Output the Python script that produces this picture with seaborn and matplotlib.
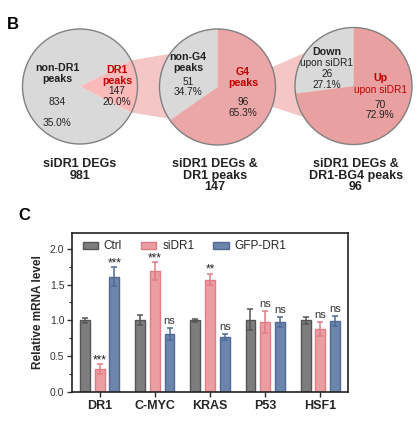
import numpy as np
import pandas as pd
import seaborn as sns
import matplotlib.pyplot as plt
from matplotlib.patches import Circle, Polygon
from matplotlib.ticker import MultipleLocator

sns.set_theme(style="ticks")
plt.rcParams['font.family'] = ['Liberation Sans', 'DejaVu Sans']

# panel B data
pie1_values = [834, 147]
pie2_values = [51, 96]
pie3_values = [26, 70]

# panel C data
genes = ["DR1", "C-MYC", "KRAS", "P53", "HSF1"]
groups = ["Ctrl", "siDR1", "GFP-DR1"]
ctrl_mean = [1.00, 1.00, 1.00, 1.01, 1.00]
ctrl_err = [0.03, 0.07, 0.02, 0.15, 0.05]
sidr1_mean = [0.32, 1.69, 1.57, 0.98, 0.88]
sidr1_err = [0.07, 0.12, 0.08, 0.15, 0.10]
gfp_mean = [1.61, 0.81, 0.77, 0.98, 0.99]
gfp_err = [0.13, 0.08, 0.04, 0.07, 0.07]
sidr1_sig = ["***", "***", "**", "ns", "ns"]
gfp_sig = ["***", "ns", "ns", "ns", "ns"]

face_colors = ["#7d7d7d", "#eb9ea2", "#6c85ab"]
edge_colors = ["#555555", "#e07c84", "#4f6a95"]

GRAY = "#d9d9d9"
RED_TXT = "#c00000"
H = 425

fig = plt.figure(figsize=(4.19, 4.25), dpi=100)

##########  panel B
axb = fig.add_axes([0, 0, 1, 1])

c1, r1 = (80, H - 86.5), 57.5
c2, r2 = (217.5, H - 87), 58
c3, r3 = (353.5, H - 86), 58.5

def pt(c, r, ang):
    a = np.deg2rad(ang)
    return (c[0] + r * np.cos(a), c[1] + r * np.sin(a))

half = pie1_values[1] / sum(pie1_values) * 180
axb.pie(pie1_values, colors=[GRAY, "#fbbaba"], startangle=half, center=c1, radius=r1,
        wedgeprops=dict(linewidth=0))
axb.pie(pie2_values, colors=[GRAY, "#eba7a7"], startangle=90, center=c2, radius=r2,
        wedgeprops=dict(linewidth=0))
axb.pie(pie3_values, colors=[GRAY, "#e9a0a0"], startangle=90, center=c3, radius=r3,
        wedgeprops=dict(linewidth=0))
for c, r in [(c1, r1), (c2, r2), (c3, r3)]:
    axb.add_patch(Circle(c, r, fill=False, edgecolor="#808080", linewidth=1.0, zorder=3))

conn = "#f4c6c6"
axb.add_patch(Polygon([pt(c1, r1, half), pt(c2, r2, 145), pt(c2, r2, 213), pt(c1, r1, -half)],
                      closed=True, facecolor=conn, edgecolor="none", zorder=0.5))
axb.add_patch(Polygon([pt(c2, r2, 20), pt(c3, r3, 145), pt(c3, r3, 212), pt(c2, r2, -20)],
                      closed=True, facecolor=conn, edgecolor="none", zorder=0.5))

def txt(x, y, s, bold=False, color="#222222", size=7.3):
    axb.text(x, H - y, s, ha="center", va="center", fontsize=size, color=color,
             fontweight="bold" if bold else "normal", zorder=5)

txt(57, 68, "non-DR1", True, size=7.7)
txt(57, 79, "peaks", True, size=7.7)
txt(57, 102, "834")
txt(57, 123, "35.0%")
txt(117, 70, "DR1", True, RED_TXT, 7.7)
txt(117, 80.5, "peaks", True, RED_TXT, 7.7)
txt(117, 91, "147")
txt(117, 102, "20.0%")

txt(188, 57, "non-G4", True, size=7.7)
txt(188, 68, "peaks", True, size=7.7)
txt(188, 82, "51")
txt(188, 92, "34.7%")
txt(243, 72, "G4", True, RED_TXT, 7.7)
txt(243, 83, "peaks", True, RED_TXT, 7.7)
txt(243, 102, "96")
txt(243, 113, "65.3%")

txt(327, 52, "Down", True, size=7.7)
txt(327, 63, "upon siDR1")
txt(327, 74, "26")
txt(327, 85, "27.1%")
txt(380, 78, "Up", True, RED_TXT, 7.7)
txt(380, 90, "upon siDR1", color=RED_TXT)
txt(380, 105, "70")
txt(380, 115, "72.9%")

txt(80, 164, "siDR1 DEGs", True, size=9)
txt(80, 175.5, "981", True, size=9)
txt(215, 164, "siDR1 DEGs &", True, size=9)
txt(215, 175.5, "DR1 peaks", True, size=9)
txt(215, 187, "147", True, size=9)
txt(356, 164, "siDR1 DEGs &", True, size=9)
txt(356, 175.5, "DR1-BG4 peaks", True, size=9)
txt(356, 187, "96", True, size=9)

txt(13, 24, "B", True, "black", 12)
txt(24, 215, "C", True, "black", 12)

axb.set_xlim(0, 419)
axb.set_ylim(0, H)
axb.set_aspect("equal")
axb.axis("off")

##########  panel C
axc = fig.add_axes([72 / 419, (H - 392) / H, 276 / 419, 159 / H])

df = pd.DataFrame({
    "gene": genes * 3,
    "group": [g for g in groups for _ in genes],
    "value": ctrl_mean + sidr1_mean + gfp_mean,
})
sns.barplot(df, x="gene", y="value", hue="group", hue_order=groups, order=genes,
            palette=face_colors, errorbar=None, gap=0.33, width=0.8, ax=axc,
            linewidth=1.0, saturation=1)

bar_conts = list(axc.containers)
errs = [ctrl_err, sidr1_err, gfp_err]
means = [ctrl_mean, sidr1_mean, gfp_mean]
sigs = [None, sidr1_sig, gfp_sig]
for k, cont in enumerate(bar_conts):
    xs = []
    for bar in cont:
        bar.set_edgecolor(edge_colors[k])
        bar.set_linewidth(1.0)
        xs.append(bar.get_x() + bar.get_width() / 2)
    axc.errorbar(xs, means[k], yerr=errs[k], fmt="none", ecolor=edge_colors[k],
                 elinewidth=1.1, capsize=2.5, capthick=1.1, zorder=3)
    if sigs[k] is not None:
        for x, m, e, s in zip(xs, means[k], errs[k], sigs[k]):
            if s == "ns":
                axc.annotate(s, (x, m + e), xytext=(0, 1.5), textcoords="offset points",
                             ha="center", va="bottom", fontsize=8, color="#333333")
            else:
                axc.annotate(s, (x, m + e), xytext=(0, -1.5), textcoords="offset points",
                             ha="center", va="bottom", fontsize=8.5, color="#222222")

axc.legend(handles=[c[0] for c in bar_conts], labels=groups, ncol=3, frameon=False,
           loc="upper left", bbox_to_anchor=(0.0, 1.02), fontsize=8.5,
           handlelength=1.3, handleheight=0.6, columnspacing=1.6, handletextpad=0.5)

axc.set_ylim(0, 2.22)
axc.set_xlim(-0.5, 4.5)
axc.yaxis.set_major_locator(MultipleLocator(0.5))
axc.yaxis.set_minor_locator(MultipleLocator(0.25))
axc.set_yticks([0, 0.5, 1.0, 1.5, 2.0], ["0.0", "0.5", "1.0", "1.5", "2.0"])
axc.set_xlabel("")
axc.set_ylabel("Relative mRNA level", fontsize=8.5, fontweight="bold", labelpad=4)
axc.tick_params(axis="y", which="major", length=3.5, width=1, labelsize=7.5, pad=2,
                colors="#333333")
axc.tick_params(axis="y", which="minor", length=2, width=0.8)
axc.tick_params(axis="x", length=3.5, width=1, pad=2)
for lbl in axc.get_xticklabels():
    lbl.set_fontweight("bold")
    lbl.set_fontsize(9)
for sp in axc.spines.values():
    sp.set_visible(True)
    sp.set_linewidth(1.2)
    sp.set_color("#222222")

plt.savefig("out.png", dpi=100)
plt.close()
